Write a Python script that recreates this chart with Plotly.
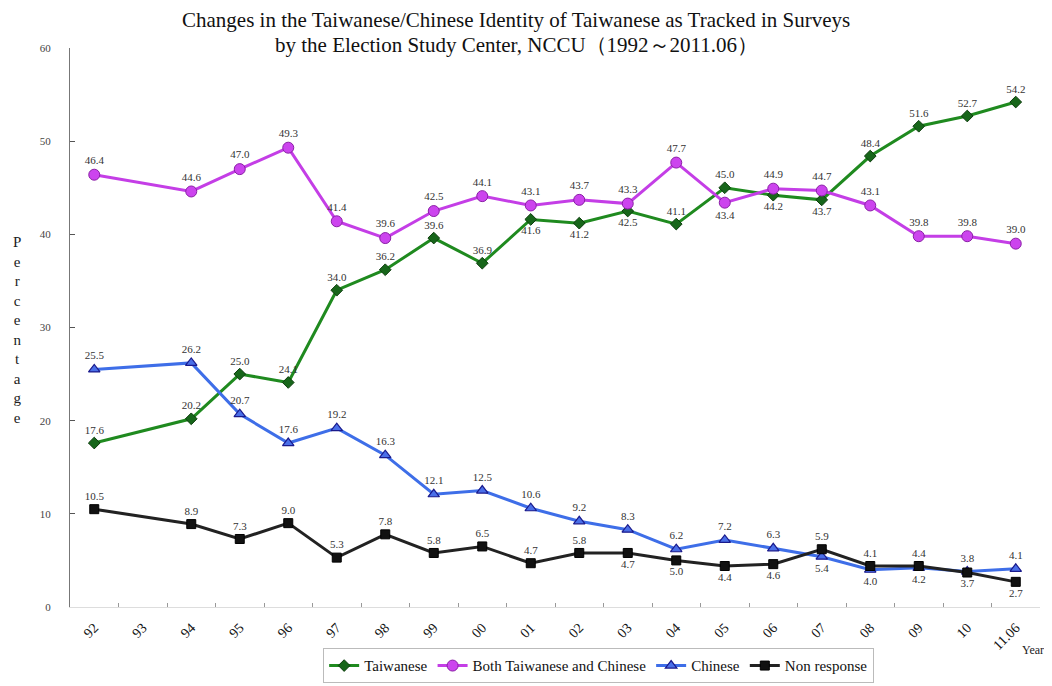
import plotly.graph_objects as go

years = ["92", "93", "94", "95", "96", "97", "98", "99", "00", "01", "02",
         "03", "04", "05", "06", "07", "08", "09", "10", "11.06"]

taiwanese = [17.6, None, 20.2, 25.0, 24.1, 34.0, 36.2, 39.6, 36.9, 41.6, 41.2,
             42.5, 41.1, 45.0, 44.2, 43.7, 48.4, 51.6, 52.7, 54.2]
both = [46.4, None, 44.6, 47.0, 49.3, 41.4, 39.6, 42.5, 44.1, 43.1, 43.7,
        43.3, 47.7, 43.4, 44.9, 44.7, 43.1, 39.8, 39.8, 39.0]
chinese = [25.5, None, 26.2, 20.7, 17.6, 19.2, 16.3, 12.1, 12.5, 10.6, 9.2,
           8.3, 6.2, 7.2, 6.3, 5.4, 4.0, 4.2, 3.8, 4.1]
non_response = [10.5, None, 8.9, 7.3, 9.0, 5.3, 7.8, 5.8, 6.5, 4.7, 5.8,
                5.8, 5.0, 4.4, 4.6, 6.2, 4.4, 4.4, 3.7, 2.7]
# labels as printed in the original chart
non_response_labels = ["10.5", "", "8.9", "7.3", "9.0", "5.3", "7.8", "5.8", "6.5", "4.7", "5.8",
                       "4.7", "5.0", "4.4", "4.6", "5.9", "4.1", "4.4", "3.7", "2.7"]

title_lines = ["Changes in the Taiwanese/Chinese Identity of Taiwanese as Tracked in Surveys",
               "by the Election Study Center, NCCU（1992～2011.06）"]

U, D = "top center", "bottom center"
pos_tw = [U, U, U, U, U, U, U, U, U, D, D, D, U, U, D, D, U, U, U, U]
pos_both = [U, U, U, U, U, U, U, U, U, U, U, U, U, D, U, U, U, U, U, U]
pos_ch = [U, U, U, U, U, U, U, U, U, U, U, U, U, U, U, D, D, D, U, U]
pos_nr = [U, U, U, U, U, U, U, U, U, U, U, D, D, D, D, U, U, U, D, D]


def fmt(vals):
    return ["" if v is None else f"{v:.1f}" for v in vals]


label_font = dict(family="Liberation Serif", size=11, color="#333333")

fig = go.Figure()
fig.add_trace(go.Scatter(
    x=years, y=taiwanese, name="Taiwanese", mode="lines+markers+text",
    connectgaps=True, text=fmt(taiwanese), textposition=pos_tw, textfont=label_font,
    line=dict(color="#1f8a1f", width=3),
    marker=dict(symbol="diamond", size=9, color="#17661a", line=dict(color="#0d3d0d", width=1)),
))
fig.add_trace(go.Scatter(
    x=years, y=both, name="Both Taiwanese and Chinese", mode="lines+markers+text",
    connectgaps=True, text=fmt(both), textposition=pos_both, textfont=label_font,
    line=dict(color="#c43ee6", width=3),
    marker=dict(symbol="circle", size=11, color="#cc44ee", line=dict(color="#8a1fa6", width=1)),
))
fig.add_trace(go.Scatter(
    x=years, y=chinese, name="Chinese", mode="lines+markers+text",
    connectgaps=True, text=fmt(chinese), textposition=pos_ch, textfont=label_font,
    line=dict(color="#3e6ee8", width=3),
    marker=dict(symbol="triangle-up", size=10, color="#4a6fe8", line=dict(color="#1a1a8c", width=1.2)),
))
fig.add_trace(go.Scatter(
    x=years, y=non_response, name="Non response", mode="lines+markers+text",
    connectgaps=True, text=non_response_labels, textposition=pos_nr, textfont=label_font,
    line=dict(color="#222222", width=3),
    marker=dict(symbol="square", size=9, color="#111111", line=dict(color="#000000", width=1)),
))

fig.update_layout(
    width=1052, height=686,
    paper_bgcolor="white", plot_bgcolor="white",
    margin=dict(l=62, r=20, t=40, b=86),
    font=dict(family="Liberation Serif", color="#222222"),
    xaxis=dict(
        type="category", categoryorder="array", categoryarray=years,
        range=[-0.5, 19.5], tickangle=-45, tickson="boundaries",
        ticks="inside", ticklen=4, tickcolor="#999999",
        ticklabelstandoff=6,
        showline=True, linecolor="#dddddd", linewidth=1,
        showgrid=False, zeroline=False,
        tickfont=dict(family="Liberation Serif", size=14, color="#111111"),
    ),
    yaxis=dict(
        range=[0, 60], dtick=10, ticks="inside", ticklen=5, tickcolor="#555555",
        ticklabelstandoff=16,
        showline=True, linecolor="#777777", linewidth=1,
        showgrid=False, zeroline=False,
        tickfont=dict(family="Liberation Serif", size=11, color="#444444"),
    ),
    legend=dict(
        orientation="h", x=0.545, xanchor="center", y=-0.072, yanchor="top",
        bordercolor="#bbbbbb", borderwidth=1,
        font=dict(family="Liberation Serif", size=15, color="#111111"),
        itemwidth=30, tracegroupgap=0,
    ),
    showlegend=True,
)

for i, line in enumerate(title_lines):
    fig.add_annotation(
        text=line, xref="paper", yref="paper", x=0.46, y=1.05 - i * 0.045,
        xanchor="center", yanchor="middle", showarrow=False,
        font=dict(family="Liberation Serif", size=21, color="#111111"),
    )

fig.add_annotation(
    text="<br>".join(list("Percentage")), xref="paper", yref="paper",
    x=-0.055, y=0.495, xanchor="center", yanchor="middle", showarrow=False,
    font=dict(family="Liberation Serif", size=15, color="#222222"), align="center",
)
fig.add_annotation(
    text="Year", xref="paper", yref="paper", x=1.006, y=-0.077,
    xanchor="right", yanchor="middle", showarrow=False,
    font=dict(family="Liberation Serif", size=12, color="#222222"),
)

fig.write_html("out.html")
